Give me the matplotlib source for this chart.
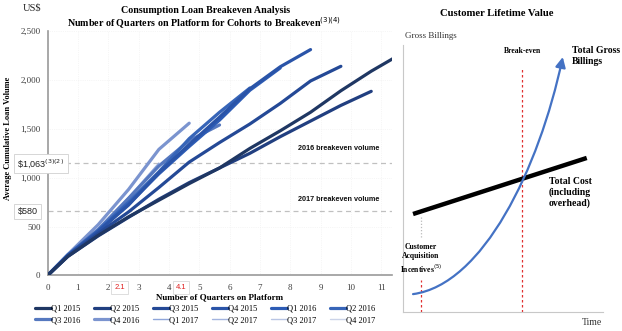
import numpy as np
import matplotlib.pyplot as plt
from matplotlib.path import Path
from matplotlib.patches import FancyArrowPatch

plt.rcParams['font.family'] = ['Liberation Serif', 'DejaVu Serif']

# ---- left chart data: average cumulative loan volume per cohort (US$)
quarters = [0, 0.67, 1.67, 2.67, 3.67, 4.67, 5.67, 6.67, 7.67, 8.67, 9.67, 10.67, 11.67]

cohorts = ["Q1 2015", "Q2 2015", "Q3 2015", "Q4 2015", "Q1 2016", "Q2 2016",
           "Q3 2016", "Q4 2016", "Q1 2017", "Q2 2017", "Q3 2017", "Q4 2017"]

volume = {
    "Q1 2015": [0, 195, 410, 600, 770, 940, 1100, 1300, 1480, 1670, 1890, 2090, 2270],
    "Q2 2015": [0, 195, 405, 595, 780, 950, 1100, 1250, 1420, 1580, 1740, 1884],
    "Q3 2015": [0, 200, 430, 650, 900, 1160, 1360, 1550, 1760, 1990, 2140],
    "Q4 2015": [0, 205, 450, 720, 1050, 1340, 1620, 1910, 2135, 2311],
    "Q1 2016": [0, 205, 450, 730, 1040, 1320, 1590, 1895, 2123],
    "Q2 2016": [0, 210, 460, 750, 1060, 1400, 1670, 1918],
    "Q3 2016": [0, 210, 470, 790, 1120, 1380, 1540],
    "Q4 2016": [0, 215, 520, 880, 1290, 1558],
    "Q1 2017": [0, 210, 480, 800, 1150],
    "Q2 2017": [0, 215, 470, 760],
    "Q3 2017": [0, 210, 460],
    "Q4 2017": [0, 200],
}

colors = ["#1f3763", "#213f80", "#244996", "#2a54a8", "#2d5cb5", "#3765b8",
          "#5578bf", "#7b94cf", "#8ea5da", "#a3b4df", "#b8c5e4", "#cbd3e8"]

breakeven_labels = ["\\$1,063$^{(3)(2)}$", "\\$580"]
breakeven_levels = [1146, 659]          # where the dashed lines sit on the chart
breakeven_names = ["2016 breakeven volume", "2017 breakeven volume"]
breakeven_name_y = [1302, 781]
breakeven_quarters = ["2.1", "4.1"]
breakeven_q_pos = [2.38, 4.4]

# ---- right chart (schematic): bezier points of gross billings, cost line
gb_time = [0.5, 4.0, 6.8, 8.0]
gb_value = [0.67, 1.02, 5.35, 9.55]
cost_time = [0.5, 9.2]
cost_value = [3.67, 5.77]

fig = plt.figure(figsize=(6.22, 3.31), dpi=100)

# ================= left panel =================
ax = fig.add_axes([0.0764, 0.1677, 0.5536, 0.7383])
for i, name in enumerate(cohorts):
    v = volume[name]
    lw = 2.3 if i < 8 else 1.0
    ax.plot(quarters[:len(v)], v, color=colors[i], lw=lw, label=name,
            solid_capstyle='round', zorder=3 + (12 - i) * 0.01)

ax.set_xlim(0, 11.35)
ax.set_ylim(0, 2500)
ax.set_xticks(range(12))
ax.set_yticks([0, 500, 1000, 1500, 2000, 2500])
ax.set_yticklabels(["0", "500", "1,000", "1,500", "2,000", "2,500"])
ax.tick_params(length=0, labelsize=6.5, colors="#404040")
ax.tick_params(axis="y", pad=5)
ax.tick_params(axis="x", pad=6)
for s in ["top", "right"]:
    ax.spines[s].set_visible(False)
for s in ["left", "bottom"]:
    ax.spines[s].set_color("#9a9a9a")
    ax.spines[s].set_linewidth(1.2)
ax.grid(True, color="#eeeeee", lw=0.5, ls=":")
ax.set_axisbelow(True)

for lvl, nm, ny in zip(breakeven_levels, breakeven_names, breakeven_name_y):
    ax.axhline(lvl, color="#c0c0c0", lw=0.9, ls=(0, (4, 3)), zorder=2)
    ax.text(9.6, ny, nm, family=["Liberation Sans", "DejaVu Sans"], fontsize=5.2,
            fontweight="bold", ha="center", va="center", color="#111111")

for lvl, lab in zip([163.5, 211.5], breakeven_labels):
    fig.text(0.028, 1 - lvl / 331, lab, family=["Liberation Sans", "DejaVu Sans"],
             fontsize=6.5, va="center", ha="left", color="#222222",
             bbox=dict(boxstyle="square,pad=0.35", fc="white", ec="#d0d0d0", lw=0.6))

for q, lab in zip(breakeven_q_pos, breakeven_quarters):
    ax.text(q, -0.05, lab, transform=ax.get_xaxis_transform(),
            family=["Liberation Sans", "DejaVu Sans"],
            fontsize=5.5, color="#e02020", ha="center", va="center",
            bbox=dict(boxstyle="square,pad=0.4", fc="white", ec="#d8d8d8", lw=0.6))

ax.set_xlabel("Number of Quarters on Platform", fontsize=6.5, fontweight="bold", labelpad=1)
fig.text(0.013, 0.583, "Average Cumulative Loan Volume", rotation=90, fontsize=6,
         fontweight="bold", ha="center", va="center")
fig.text(0.036, 0.975, "US$", fontsize=7.5, ha="left", va="center", color="#222222")
fig.text(0.331, 0.968, "Consumption Loan Breakeven Analysis", fontsize=7.2,
         fontweight="bold", ha="center", va="center")
fig.text(0.328, 0.930, "Number of Quarters on Platform for Cohorts to Breakeven$^{(3)(4)}$",
         fontsize=7.2, fontweight="bold", ha="center", va="center")

handles, labels = ax.get_legend_handles_labels()
order = [0, 6, 1, 7, 2, 8, 3, 9, 4, 10, 5, 11]
fig.legend([handles[i] for i in order], [labels[i] for i in order], loc="center",
           ncol=6, bbox_to_anchor=(0.33, 0.05), frameon=False, fontsize=6,
           handlelength=1.9, handletextpad=0.05, columnspacing=1.6,
           labelspacing=0.45, borderpad=0)

# ================= right panel =================
rx = fig.add_axes([0.648, 0.0574, 0.321, 0.8066])
rx.set_xlim(0, 10)
rx.set_ylim(0, 10)
rx.set_xticks([])
rx.set_yticks([])
for s in ["top", "right"]:
    rx.spines[s].set_visible(False)
for s in ["left", "bottom"]:
    rx.spines[s].set_color("#c8c8c8")
    rx.spines[s].set_linewidth(0.8)

rx.plot(cost_time, cost_value, color="black", lw=3.2, solid_capstyle="butt", zorder=3)

curve = Path(list(zip(gb_time, gb_value)),
             [Path.MOVETO, Path.CURVE4, Path.CURVE4, Path.CURVE4])
rx.add_patch(FancyArrowPatch(path=curve, arrowstyle="-|>,head_length=6,head_width=3",
                             color="#4472c4", lw=1.6, zorder=4))

rx.plot([5.95, 5.95], [0, 9.18], color="#e03030", lw=0.9, ls=(0, (2, 2)), zorder=2)
rx.plot([0.9, 0.9], [0, 1.2], color="#e03030", lw=0.9, ls=(0, (2, 2)), zorder=2)
rx.plot([0.9, 0.9], [2.81, 3.56], color="#bbbbbb", lw=0.9, ls=(0, (1, 1.5)), zorder=2)

rx.text(6.0, 9.78, "Break-even", fontsize=5.5, fontweight="bold", ha="center", va="center")
rx.text(8.45, 9.95, "Total Gross\nBillings", fontsize=7, fontweight="bold",
        ha="left", va="top", linespacing=1.2)
rx.text(7.3, 5.05, "Total Cost\n(including\noverhead)", fontsize=7, fontweight="bold",
        ha="left", va="top", linespacing=1.2)
rx.text(0.9, 2.6, "Customer\nAcquisition\nIncentives$^{(5)}$", fontsize=5.5,
        fontweight="bold", ha="center", va="top", linespacing=1.25)
rx.text(0.1, 10.35, "Gross Billings", fontsize=6.5, ha="left", va="center",
        color="#333333", clip_on=False)
rx.text(9.95, -0.4, "Time", fontsize=7, ha="right", va="center", color="#333333",
        clip_on=False)
fig.text(0.799, 0.958, "Customer Lifetime Value", fontsize=7.7, fontweight="bold",
         ha="center", va="center")

fig.savefig("out.png", dpi=100)
